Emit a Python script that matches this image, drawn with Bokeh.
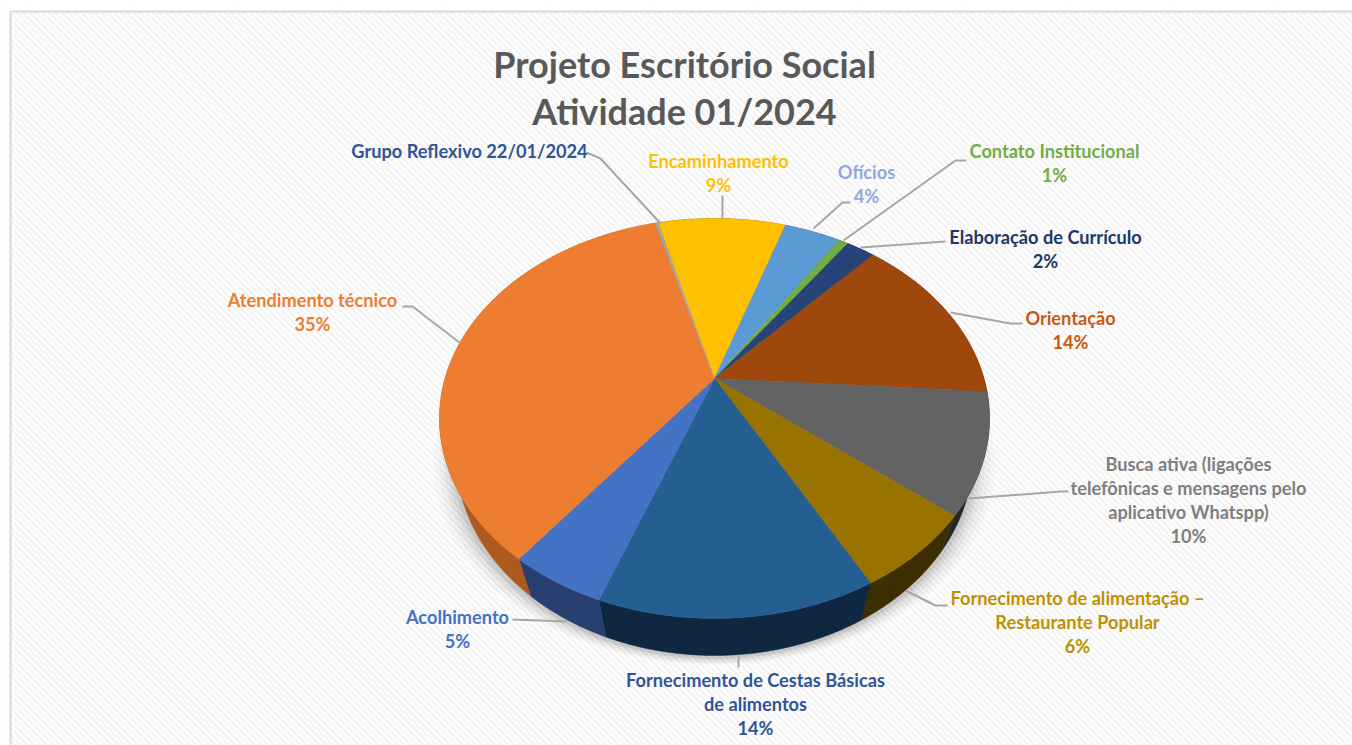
import numpy as np
from bokeh.plotting import figure
from bokeh.models import Range1d
from bokeh.core.properties import value
from bokeh.embed import file_html
from bokeh.resources import INLINE

# ---------- data ----------
categories = ["Encaminhamento", "Ofícios", "Contato Institucional", "Elaboração de Currículo",
              "Orientação", "Busca ativa", "Fornecimento de alimentação", "Fornecimento de Cestas Básicas",
              "Acolhimento", "Atendimento técnico", "Grupo Reflexivo"]
shares = [9.1, 4.0, 0.7, 2.0, 14.3, 9.7, 6.3, 13.6, 4.8, 35.3, 0.2]
top_colors = ["#FFC000", "#5B9BD5", "#70AD47", "#264478", "#9E480E", "#636363",
              "#997300", "#255E91", "#4472C4", "#ED7D31", "#A5A5A5"]
side_colors = ["#806000", "#2E4E6B", "#385723", "#131F3C", "#4F2407", "#262626",
               "#3D2E00", "#0F2740", "#28406F", "#AE5A1F", "#666666"]
start_angle = -14.5

title_lines = ["Projeto Escritório Social", "Atividade 01/2024"]
title_ys = [63, 110]

label_text = ["Grupo Reflexivo 22/01/2024", "Encaminhamento", "9%", "Ofícios", "4%",
              "Contato Institucional", "1%", "Elaboração de Currículo", "2%", "Orientação", "14%",
              "Busca ativa (ligações", "telefônicas e mensagens pelo", "aplicativo Whatspp)", "10%",
              "Fornecimento de alimentação –", "Restaurante Popular", "6%",
              "Fornecimento de Cestas Básicas", "de alimentos", "14%",
              "Acolhimento", "5%", "Atendimento técnico", "35%"]
label_x = [469, 718, 718, 866, 866, 1054, 1054, 1045, 1045, 1070, 1070,
           1188, 1188, 1188, 1188, 1077, 1077, 1077, 755, 755, 755, 457, 457, 312, 312]
label_y = [150, 160, 184, 171, 195, 150, 174, 236, 260, 317, 341,
           463, 487, 511, 535, 597, 621, 645, 679, 703, 727, 616, 640, 299, 323]
label_color = ["#2F5597", "#FFC000", "#FFC000", "#8FAADC", "#8FAADC", "#70AD47", "#70AD47",
               "#203864", "#203864", "#C55A11", "#C55A11", "#7F7F7F", "#7F7F7F", "#7F7F7F", "#7F7F7F",
               "#BF9000", "#BF9000", "#BF9000", "#2F5597", "#2F5597", "#2F5597",
               "#4472C4", "#4472C4", "#ED7D31", "#ED7D31"]

leader_xs = [[402, 412, 459], [586, 600, 660], [722, 722], [850, 842, 813], [966, 955, 843],
             [945, 860], [1022, 1010, 950], [1068, 1060, 968], [947, 935, 905], [512, 566], [738, 738]]
leader_ys = [[306, 306, 342], [152, 158, 223], [195, 218], [202, 202, 228], [160, 160, 240],
             [241, 247], [323, 323, 312], [491, 491, 498], [605, 605, 590], [619, 621], [656, 667]]

# ---------- perspective pie geometry ----------
APEX_X, APEX_Y = 714.0, 378.0
B, A, K = 269.4, 192.0, 0.2
DEPTH, BOTTOM_SCALE = 37.0, 0.94


def rim(deg):
    t = np.radians(deg)
    u, w = np.sin(t), -np.cos(t)
    d = 1 - K * w
    return B * u / d, A * w / d


p = figure(width=1352, height=745, output_backend="svg", toolbar_location=None,
           x_range=Range1d(0, 1352), y_range=Range1d(745, 0), min_border=0,
           outline_line_color=None, background_fill_color="white", border_fill_color="white")
p.axis.visible = False
p.grid.visible = False

# striped background
offs = np.arange(-750, 1360, 6.5)
p.multi_line([[o, o + 750] for o in offs], [[0, 750] for _ in offs], line_color="#F4F4F4", line_width=2.5)
p.quad(left=[0], right=[10], bottom=[745], top=[0], fill_color="white", line_color=None)
p.quad(left=[0], right=[1352], bottom=[10], top=[0], fill_color="white", line_color=None)
p.line([10, 10, 1352], [745, 11, 11], line_color="#D9D9D9", line_width=2)

# soft shadow
circle = np.linspace(0, 360, 181)
cx, cy = rim(circle)
for grow, off, alpha in [(22, 40, .02), (17, 40, .03), (12, 40, .04), (8, 39, .05), (4, 39, .07)]:
    p.patch(APEX_X + cx * (BOTTOM_SCALE + grow / 275), APEX_Y + cy + off + grow * .3,
            fill_color="black", fill_alpha=alpha, line_color=None)

# slices
fractions = np.array(shares) / sum(shares)
edges = start_angle + 360 * np.concatenate([[0], np.cumsum(fractions)])

wall_x, wall_y, top_x, top_y = [], [], [], []
for a0, a1 in zip(edges[:-1], edges[1:]):
    t = np.linspace(a0, a1, max(3, int((a1 - a0) * 2)))
    x, y = rim(t)
    wall_x.append(APEX_X + np.concatenate([x, x[::-1] * BOTTOM_SCALE]))
    wall_y.append(APEX_Y + np.concatenate([y, y[::-1] + DEPTH]))
    top_x.append(APEX_X + np.concatenate([[0], x]))
    top_y.append(APEX_Y + np.concatenate([[0], y]))

p.patches(wall_x, wall_y, fill_color=side_colors, line_color=side_colors, line_width=0.5)
p.patches(top_x, top_y, fill_color=top_colors, line_color=top_colors, line_width=0.5)

# leaders
p.multi_line(leader_xs, leader_ys, line_color="#A6A6A6", line_width=2)

# texts
p.text(x=[684, 684], y=title_ys, text=title_lines, text_font=value("Lato"), text_font_style="bold",
       text_font_size="36px", text_color="#595959", text_align="center", text_baseline="middle")
p.text(x=label_x, y=label_y, text=label_text, text_font=value("Lato"), text_font_style="bold",
       text_font_size="18.2px", text_color=label_color, text_align="center", text_baseline="middle")

open("out.html", "w").write(file_html(p, INLINE))
